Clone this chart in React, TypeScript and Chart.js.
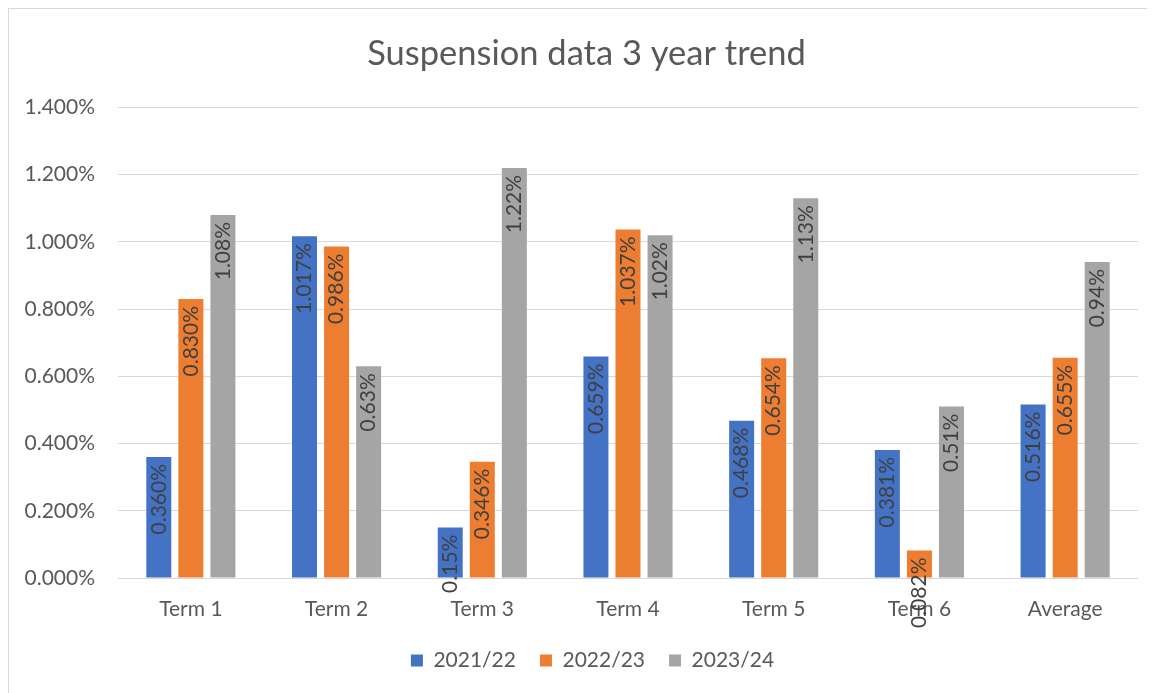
import React, { useEffect, useRef } from "react";
import { Chart, registerables } from "chart.js";

Chart.register(...registerables);

const categories = ["Term 1", "Term 2", "Term 3", "Term 4", "Term 5", "Term 6", "Average"];
const seriesNames = ["2021/22", "2022/23", "2023/24"];
const values2122 = [0.36, 1.017, 0.15, 0.659, 0.468, 0.381, 0.516];
const values2223 = [0.83, 0.986, 0.346, 1.037, 0.654, 0.082, 0.655];
const values2324 = [1.08, 0.63, 1.22, 1.02, 1.13, 0.51, 0.94];
const labels2122 = ["0.360%", "1.017%", "0.15%", "0.659%", "0.468%", "0.381%", "0.516%"];
const labels2223 = ["0.830%", "0.986%", "0.346%", "1.037%", "0.654%", "0.082%", "0.655%"];
const labels2324 = ["1.08%", "0.63%", "1.22%", "1.02%", "1.13%", "0.51%", "0.94%"];
const colors = ["#4472C4", "#ED7D31", "#A5A5A5"];
const yTicks = { min: 0, max: 1.4, step: 0.2 };

const FONT = "Lato, 'Open Sans', sans-serif";

const barLabelPlugin = {
  id: "barLabels",
  afterLayout(chart: any) {
    if (chart.legend) {
      chart.legend.left += 19;
      chart.legend.right += 19;
    }
    if (chart.titleBlock) {
      chart.titleBlock.left += 13;
      chart.titleBlock.right += 13;
    }
  },
  afterDatasetsDraw(chart: any) {
    const ctx = chart.ctx;
    const allLabels = [labels2122, labels2223, labels2324];
    ctx.save();
    ctx.font = `21px ${FONT}`;
    ctx.fillStyle = "#404040";
    chart.data.datasets.forEach((ds: any, di: number) => {
      const meta = chart.getDatasetMeta(di);
      meta.data.forEach((bar: any, i: number) => {
        const text = allLabels[di][i];
        ctx.save();
        ctx.translate(bar.x, bar.y + 7);
        ctx.rotate(-Math.PI / 2);
        ctx.textAlign = "right";
        ctx.textBaseline = "middle";
        ctx.fillText(text, 0, 0);
        ctx.restore();
      });
    });
    ctx.restore();
  },
};

export default function App() {
  const ref = useRef<HTMLCanvasElement | null>(null);
  useEffect(() => {
    if (!ref.current) return;
    const seriesValues = [values2122, values2223, values2324];
    const chart = new Chart(ref.current, {
      type: "bar",
      data: {
        labels: categories,
        datasets: seriesNames.map((name, i) => ({
          label: name,
          data: seriesValues[i],
          backgroundColor: colors[i],
          borderWidth: 0,
          categoryPercentage: 0.66,
          barPercentage: 0.78,
        })),
      },
      options: {
        responsive: false,
        animation: false,
        maintainAspectRatio: false,
        layout: { padding: { left: 0, right: 17, top: 0, bottom: 12 } },
        plugins: {
          title: {
            display: true,
            text: "Suspension data 3 year trend",
            color: "#595959",
            font: { family: FONT, size: 34.5, weight: "normal" as any },
            padding: { top: 24, bottom: 33 },
          },
          legend: {
            position: "bottom",
            labels: {
              color: "#595959",
              font: { family: FONT, size: 21 },
              boxWidth: 12,
              boxHeight: 12,
              padding: 24,
            },
          },
          tooltip: { enabled: false },
        },
        scales: {
          x: {
            grid: { display: false, drawTicks: false },
            border: { display: false },
            ticks: { color: "#595959", font: { family: FONT, size: 21 }, padding: 19 },
            afterFit: (s: any) => {
              s.height = 48;
            },
          },
          y: {
            min: yTicks.min,
            max: yTicks.max,
            grid: { color: "#d9d9d9", lineWidth: 1, drawTicks: false },
            border: { display: false },
            ticks: {
              stepSize: yTicks.step,
              color: "#595959",
              font: { family: FONT, size: 21 },
              padding: 23,
              callback: (v: any) => Number(v).toFixed(3) + "%",
            },
            afterFit: (s: any) => {
              s.width = 109;
            },
          },
        },
      },
      plugins: [barLabelPlugin],
    });
    return () => chart.destroy();
  }, []);

  return (
    <div
      style={{
        width: 1147,
        height: 685,
        boxSizing: "border-box",
        borderTop: "1px solid #d9d9d9",
        borderLeft: "1px solid #d9d9d9",
        background: "#fff",
        overflow: "hidden",
      }}
    >
      <canvas ref={ref} width={1146} height={684} style={{ display: "block" }} />
    </div>
  );
}
